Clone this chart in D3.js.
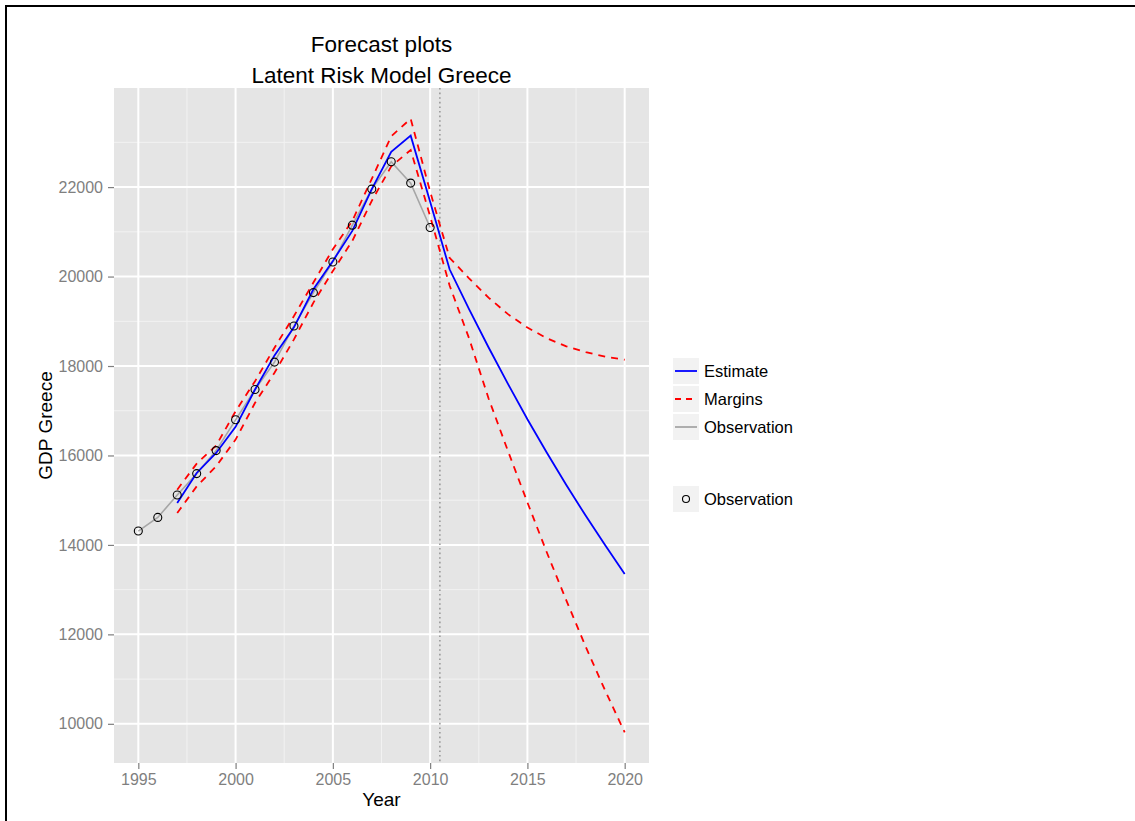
<!DOCTYPE html>
<html>
<head>
<meta charset="utf-8">
<script src="https://cdn.jsdelivr.net/npm/d3@7"></script>
<style>
  body { margin: 0; background: #fff; }
  text { font-family: "Liberation Sans", Arial, sans-serif; }
</style>
</head>
<body>
<svg id="container" width="1135" height="821"></svg>
<script>
// observed GDP
const obsYears = d3.range(1995, 2011);
const obsValues = [14310, 14615, 15116, 15594, 16109, 16797, 17475, 18087,
  18893, 19641, 20327, 21149, 21956, 22567, 22090, 21098];

// model estimate and margins
const estYears = d3.range(1997, 2021);
const estimate = [14937, 15609, 16057, 16640, 17475, 18237, 18864, 19716,
  20349, 21021, 21956, 22791, 23150, 21671, 20163, 19270, 18420, 17600,
  16810, 16060, 15340, 14650, 13990, 13350];
const upper = [15235, 15818, 16221, 16989, 17661, 18409, 19117, 19866,
  20612, 21246, 22185, 23136, 23530, 21900, 20420, 19960, 19530, 19160,
  18860, 18620, 18440, 18310, 18210, 18140];
const lower = [14713, 15309, 15757, 16355, 17177, 17849, 18595, 19418,
  20125, 20798, 21694, 22463, 22830, 21350, 19800, 18620, 17280, 16100,
  14950, 13830, 12760, 11720, 10740, 9810];

const forecastStart = 2010.5;
const xTicks = [1995, 2000, 2005, 2010, 2015, 2020];
const xMinor = [1997.5, 2002.5, 2007.5, 2012.5, 2017.5];
const yTicks = [10000, 12000, 14000, 16000, 18000, 20000, 22000];
const yMinor = [11000, 13000, 15000, 17000, 19000, 21000, 23000];

const svg = d3.select("#container");
const panelLeft = 114, panelRight = 649, panelTop = 88, panelBottom = 763;

// border
svg.append("path")
  .attr("d", "M6,830 V6 H1140")
  .attr("fill", "none")
  .attr("stroke", "black")
  .attr("stroke-width", 2);

const x = d3.scaleLinear().domain([1995 - 1.25, 2020 + 1.25]).range([panelLeft, panelRight]);
const yMin = d3.min(lower), yMax = d3.max(upper);
const pad = (yMax - yMin) * 0.05;
const y = d3.scaleLinear().domain([yMin - pad, yMax + pad]).range([panelBottom, panelTop]);

svg.append("rect")
  .attr("x", panelLeft).attr("y", panelTop)
  .attr("width", panelRight - panelLeft).attr("height", panelBottom - panelTop)
  .attr("fill", "#E5E5E5");

// grid
svg.selectAll(".xminor").data(xMinor).enter().append("line")
  .attr("x1", d => x(d)).attr("x2", d => x(d))
  .attr("y1", panelTop).attr("y2", panelBottom)
  .attr("stroke", "#F2F2F2").attr("stroke-width", 1);
svg.selectAll(".yminor").data(yMinor).enter().append("line")
  .attr("y1", d => y(d)).attr("y2", d => y(d))
  .attr("x1", panelLeft).attr("x2", panelRight)
  .attr("stroke", "#F2F2F2").attr("stroke-width", 1);
svg.selectAll(".xmajor").data(xTicks).enter().append("line")
  .attr("x1", d => x(d)).attr("x2", d => x(d))
  .attr("y1", panelTop).attr("y2", panelBottom)
  .attr("stroke", "white").attr("stroke-width", 2);
svg.selectAll(".ymajor").data(yTicks).enter().append("line")
  .attr("y1", d => y(d)).attr("y2", d => y(d))
  .attr("x1", panelLeft).attr("x2", panelRight)
  .attr("stroke", "white").attr("stroke-width", 2);

// axes
const xAxis = svg.append("g")
  .attr("transform", `translate(0,${panelBottom})`)
  .call(d3.axisBottom(x).tickValues(xTicks).tickFormat(d3.format("d")).tickSize(6).tickPadding(5));
const yAxis = svg.append("g")
  .attr("transform", `translate(${panelLeft},0)`)
  .call(d3.axisLeft(y).tickValues(yTicks).tickFormat(d3.format("d")).tickSize(6).tickPadding(5));
[xAxis, yAxis].forEach(g => {
  g.select(".domain").remove();
  g.selectAll("line").attr("stroke", "#7F7F7F").attr("stroke-width", 1.2);
  g.selectAll("text").attr("fill", "#7F7F7F").style("font-size", "16px")
    .style("font-family", "'Liberation Sans', Arial, sans-serif");
});

// vertical forecast marker
svg.append("line")
  .attr("x1", x(forecastStart)).attr("x2", x(forecastStart))
  .attr("y1", panelTop).attr("y2", panelBottom)
  .attr("stroke", "#999999").attr("stroke-width", 1.6)
  .attr("stroke-dasharray", "1.6,3");

const obs = obsYears.map((yr, i) => ({ yr, v: obsValues[i] }));
const line = d3.line().x(d => x(d.yr)).y(d => y(d.v));

svg.append("path").datum(obs)
  .attr("d", line).attr("fill", "none")
  .attr("stroke", "#A6A6A6").attr("stroke-width", 1.6);

svg.append("path").datum(estYears.map((yr, i) => ({ yr, v: estimate[i] })))
  .attr("d", line).attr("fill", "none")
  .attr("stroke", "#0000FF").attr("stroke-width", 1.8);

[upper, lower].forEach(series => {
  svg.append("path").datum(estYears.map((yr, i) => ({ yr, v: series[i] })))
    .attr("d", line).attr("fill", "none")
    .attr("stroke", "#FF0000").attr("stroke-width", 1.8)
    .attr("stroke-dasharray", "7,6");
});

svg.selectAll(".obs").data(obs).enter().append("circle")
  .attr("cx", d => x(d.yr)).attr("cy", d => y(d.v)).attr("r", 4)
  .attr("fill", "none").attr("stroke", "black").attr("stroke-width", 1.1);

// titles
const cx = (panelLeft + panelRight) / 2;
svg.append("text").attr("x", cx).attr("y", 52).attr("text-anchor", "middle")
  .style("font-size", "22.5px").text("Forecast plots");
svg.append("text").attr("x", cx).attr("y", 83).attr("text-anchor", "middle")
  .style("font-size", "22.5px").text("Latent Risk Model Greece");
svg.append("text").attr("x", cx).attr("y", 806).attr("text-anchor", "middle")
  .style("font-size", "19px").text("Year");
svg.append("text")
  .attr("transform", `translate(52,${(panelTop + panelBottom) / 2}) rotate(-90)`)
  .attr("text-anchor", "middle")
  .style("font-size", "19px").text("GDP Greece");

// legend
const lineKeys = [
  { label: "Estimate", color: "#0000FF", dash: null },
  { label: "Margins", color: "#FF0000", dash: "6,5" },
  { label: "Observation", color: "#A6A6A6", dash: null }
];
const lg = svg.append("g").attr("transform", "translate(673,358)");
lineKeys.forEach((k, i) => {
  const g = lg.append("g").attr("transform", `translate(0,${i * 28})`);
  g.append("rect").attr("width", 26).attr("height", 26).attr("fill", "#F2F2F2");
  g.append("line").attr("x1", 2).attr("x2", 24).attr("y1", 13).attr("y2", 13)
    .attr("stroke", k.color).attr("stroke-width", 1.8)
    .attr("stroke-dasharray", k.dash);
  g.append("text").attr("x", 31).attr("y", 13).attr("dy", "0.35em")
    .style("font-size", "16.5px").text(k.label);
});
const pg = svg.append("g").attr("transform", "translate(673,486)");
pg.append("rect").attr("width", 26).attr("height", 26).attr("fill", "#F2F2F2");
pg.append("circle").attr("cx", 13).attr("cy", 13).attr("r", 3.5)
  .attr("fill", "none").attr("stroke", "black").attr("stroke-width", 1.1);
pg.append("text").attr("x", 31).attr("y", 13).attr("dy", "0.35em")
  .style("font-size", "16.5px").text("Observation");
</script>
</body>
</html>
